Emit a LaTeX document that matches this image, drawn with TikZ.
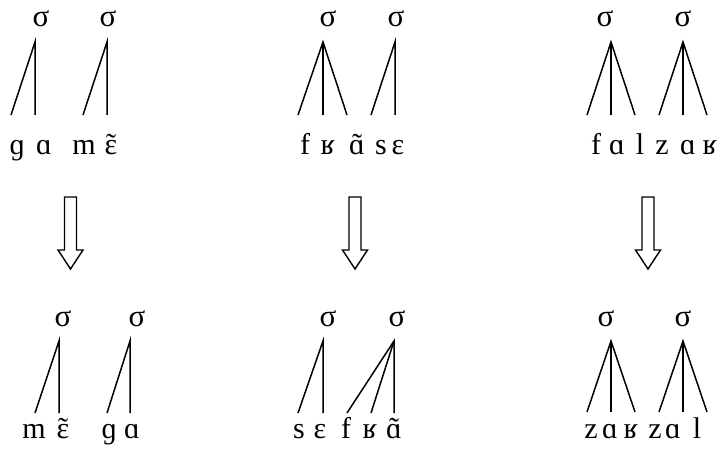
\documentclass[tikz,border=0pt]{standalone}
\usepackage{fontspec}
\setmainfont{Liberation Serif}
\newcommand\nasal[1]{\accent"02DC #1}
\begin{document}
\begin{tikzpicture}[x=1pt,y=-1pt,
  syl/.style={font=\fontsize{31}{34}\selectfont, inner sep=0pt, anchor=base},
  seg/.style={font=\fontsize{30}{34}\selectfont, inner sep=0pt, anchor=base},
  tie/.style={line width=1.5pt},
  blockarrow/.style={line width=1.4pt, line join=miter}]
\useasboundingbox (0,0) rectangle (720,449);

% ---------- top panel 1 ----------
\node[syl] (t1s1) at (41,27) {σ};
\node[syl] (t1s2) at (108,27) {σ};
\coordinate (t1a1) at (35,42);
\coordinate (t1a2) at (107,42);
\coordinate (t1e1) at (11,115);
\coordinate (t1e2) at (35,115);
\coordinate (t1e3) at (83,115);
\coordinate (t1e4) at (107,115);
\draw[tie] (t1e1) -- (t1a1) -- (t1e2);
\draw[tie] (t1e3) -- (t1a2) -- (t1e4);
\node[seg] (t1l1) at (17,155) {ɡ};
\node[seg] (t1l2) at (44,155) {ɑ};
\node[seg] (t1l3) at (84,155) {m};
\node[seg] (t1l4) at (111,155) {\nasal{ɛ}};

% ---------- top panel 2 ----------
\node[syl] (t2s1) at (328,27) {σ};
\node[syl] (t2s2) at (396,27) {σ};
\coordinate (t2a1) at (323,42);
\coordinate (t2a2) at (395,42);
\coordinate (t2e1) at (298,115);
\coordinate (t2e2) at (323,115);
\coordinate (t2e3) at (347,115);
\coordinate (t2e4) at (371,115);
\coordinate (t2e5) at (395,115);
\draw[tie] (t2e1) -- (t2a1) -- (t2e3);
\draw[tie] (t2a1) -- (t2e2);
\draw[tie] (t2e4) -- (t2a2) -- (t2e5);
\node[seg] (t2l1) at (305,155) {f};
\node[seg] (t2l2) at (328,155) {ʁ};
\node[seg] (t2l3) at (357,155) {\nasal{ɑ}};
\node[seg] (t2l4) at (381,155) {s};
\node[seg] (t2l5) at (398,155) {ɛ};

% ---------- top panel 3 ----------
\node[syl] (t3s1) at (605,27) {σ};
\node[syl] (t3s2) at (683,27) {σ};
\coordinate (t3a1) at (611,42);
\coordinate (t3a2) at (683,42);
\coordinate (t3e1) at (587,115);
\coordinate (t3e2) at (611,115);
\coordinate (t3e3) at (635,115);
\coordinate (t3e4) at (659,115);
\coordinate (t3e5) at (683,115);
\coordinate (t3e6) at (707,115);
\draw[tie] (t3e1) -- (t3a1) -- (t3e3);
\draw[tie] (t3a1) -- (t3e2);
\draw[tie] (t3e4) -- (t3a2) -- (t3e6);
\draw[tie] (t3a2) -- (t3e5);
\node[seg] (t3l1) at (596,155) {f};
\node[seg] (t3l2) at (617,155) {ɑ};
\node[seg] (t3l3) at (640,155) {l};
\node[seg] (t3l4) at (662,155) {z};
\node[seg] (t3l5) at (688,155) {ɑ};
\node[seg] (t3l6) at (710,155) {ʁ};

% ---------- arrows ----------
\foreach \cx/\nm in {70.5/ar1, 355/ar2, 648/ar3}{
  \draw[blockarrow] (\cx-6,197) -- (\cx+6,197) -- (\cx+6,250) -- (\cx+12.5,250)
     -- (\cx,269) -- (\cx-12.5,250) -- (\cx-6,250) -- cycle;
}

% ---------- bottom panel 1 ----------
\node[syl] (b1s1) at (63,326) {σ};
\node[syl] (b1s2) at (137,326) {σ};
\coordinate (b1a1) at (59,341);
\coordinate (b1a2) at (130,341);
\coordinate (b1e1) at (35,413);
\coordinate (b1e2) at (59,413);
\coordinate (b1e3) at (107,413);
\coordinate (b1e4) at (130,413);
\draw[tie] (b1e1) -- (b1a1) -- (b1e2);
\draw[tie] (b1e3) -- (b1a2) -- (b1e4);
\node[seg] (b1l1) at (34,438) {m};
\node[seg] (b1l2) at (63,438) {\nasal{ɛ}};
\node[seg] (b1l3) at (109,438) {ɡ};
\node[seg] (b1l4) at (132,438) {ɑ};

% ---------- bottom panel 2 ----------
\node[syl] (b2s1) at (328,326) {σ};
\node[syl] (b2s2) at (397,326) {σ};
\coordinate (b2a1) at (323,341);
\coordinate (b2a2) at (394,341);
\coordinate (b2e1) at (298,413);
\coordinate (b2e2) at (323,413);
\coordinate (b2e3) at (347,413);
\coordinate (b2e4) at (371,413);
\coordinate (b2e5) at (394,413);
\draw[tie] (b2e1) -- (b2a1) -- (b2e2);
\draw[tie] (b2e3) -- (b2a2) -- (b2e5);
\draw[tie] (b2a2) -- (b2e4);
\node[seg] (b2l1) at (299,438) {s};
\node[seg] (b2l2) at (320,438) {ɛ};
\node[seg] (b2l3) at (346,438) {f};
\node[seg] (b2l4) at (370,438) {ʁ};
\node[seg] (b2l5) at (394,438) {\nasal{ɑ}};

% ---------- bottom panel 3 ----------
\node[syl] (b3s1) at (606,326) {σ};
\node[syl] (b3s2) at (683,326) {σ};
\coordinate (b3a1) at (611,341);
\coordinate (b3a2) at (683,341);
\coordinate (b3e1) at (587,412);
\coordinate (b3e2) at (611,412);
\coordinate (b3e3) at (635,412);
\coordinate (b3e4) at (659,412);
\coordinate (b3e5) at (683,412);
\coordinate (b3e6) at (707,412);
\draw[tie] (b3e1) -- (b3a1) -- (b3e3);
\draw[tie] (b3a1) -- (b3e2);
\draw[tie] (b3e4) -- (b3a2) -- (b3e6);
\draw[tie] (b3a2) -- (b3e5);
\node[seg] (b3l1) at (591,438) {z};
\node[seg] (b3l2) at (610,438) {ɑ};
\node[seg] (b3l3) at (631,438) {ʁ};
\node[seg] (b3l4) at (655,438) {z};
\node[seg] (b3l5) at (673,438) {ɑ};
\node[seg] (b3l6) at (697,438) {l};
\end{tikzpicture}
\end{document}
